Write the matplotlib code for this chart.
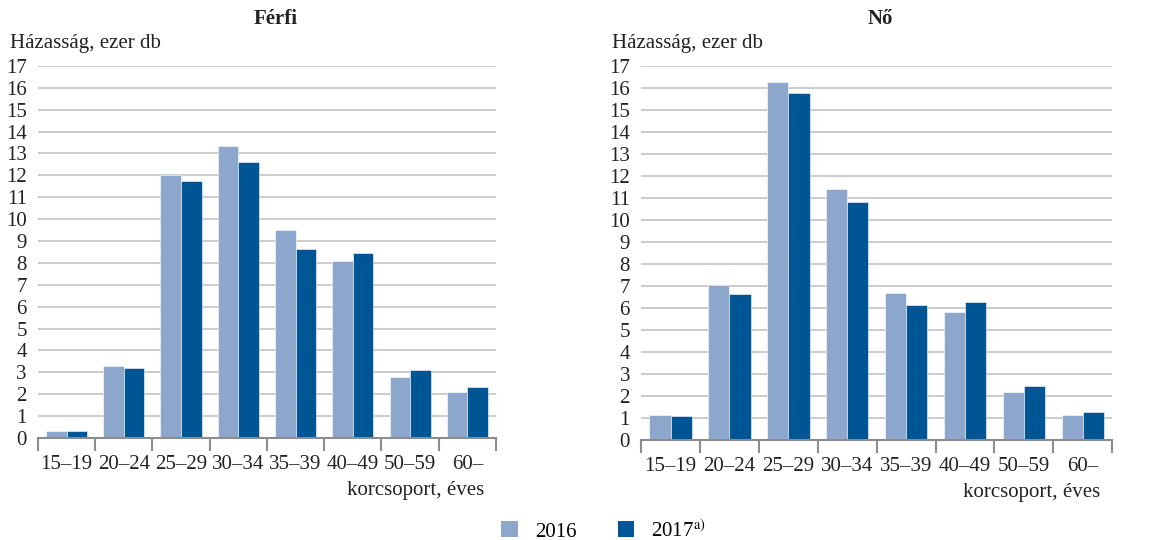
import numpy as np
import matplotlib.pyplot as plt
from matplotlib.patches import Patch

plt.rcParams['font.family'] = ['Liberation Serif', 'DejaVu Serif']
plt.rcParams['mathtext.fontset'] = 'stix'

age_groups = ["15–19", "20–24", "25–29", "30–34", "35–39", "40–49", "50–59", "60–"]
men_2016 = [0.3, 3.3, 12.0, 13.35, 9.5, 8.1, 2.8, 2.12]
men_2017 = [0.3, 3.2, 11.75, 12.6, 8.65, 8.45, 3.1, 2.33]
women_2016 = [1.12, 7.07, 16.27, 11.42, 6.68, 5.83, 2.18, 1.15]
women_2017 = [1.1, 6.65, 15.79, 10.83, 6.15, 6.29, 2.47, 1.27]

c16 = '#8ca6cc'
c17 = '#005595'
grid_c = '#c4c4c4'
axis_c = '#8c8c8c'
text_c = '#222222'
fs = 15

fig = plt.figure(figsize=(11.72, 5.4), dpi=100)
ax1 = fig.add_axes([0.0324, 0.189, 0.3908, 0.689])
ax2 = fig.add_axes([0.547, 0.185, 0.402, 0.692])

def draw(ax, v16, v17, title, title_x, ylab_x):
    x = np.arange(len(age_groups))
    w = 0.36
    ax.bar(x - w/2, v16, w, color=c16, edgecolor='white', linewidth=0.4, zorder=3)
    ax.bar(x + w/2, v17, w, color=c17, edgecolor='white', linewidth=0.4, zorder=3)
    ax.set_xlim(-0.5, len(age_groups) - 0.5)
    ax.set_ylim(0, 17)
    ax.set_yticks(range(0, 18))
    ax.tick_params(axis='y', length=0, labelsize=fs, pad=8, colors=text_c)
    ax.yaxis.grid(True, color=grid_c, linewidth=1.2, zorder=0)
    ax.set_xticks(np.arange(-0.5, len(age_groups)), labels=[])
    ax.set_xticks(x, labels=age_groups, minor=True)
    ax.tick_params(axis='x', which='major', length=9, width=1.5, color=axis_c, direction='out')
    ax.tick_params(axis='x', which='minor', length=0, labelsize=fs, pad=12, colors=text_c)
    for s in ['top', 'right', 'left']:
        ax.spines[s].set_visible(False)
    ax.spines['bottom'].set_color(axis_c)
    ax.spines['bottom'].set_linewidth(1.5)
    ax.spines['bottom'].set_zorder(4)
    ax.text(ylab_x, 1.035, "Házasság, ezer db", transform=ax.transAxes, fontsize=fs,
            ha='left', va='bottom', color=text_c)
    fig.text(title_x, 0.965, title, fontsize=fs, fontweight='bold', ha='center', va='center',
             color=text_c)
    ax.text(0.975, -0.14, "korcsoport, éves", transform=ax.transAxes, fontsize=fs,
            ha='right', va='center', color=text_c)

draw(ax1, men_2016, men_2017, "Férfi", 0.235, -0.062)
draw(ax2, women_2016, women_2017, "Nő", 0.751, -0.062)

handles = [Patch(facecolor=c16, label='2016'), Patch(facecolor=c17, label='2017$^{\\mathrm{a)}}$')]
fig.legend(handles=handles, loc='center', bbox_to_anchor=(0.515, 0.017), ncol=2, frameon=False,
           fontsize=fs, handlelength=0.8, handleheight=0.8, columnspacing=2.0, handletextpad=0.8)

fig.savefig('out.png', dpi=100, facecolor='white')
